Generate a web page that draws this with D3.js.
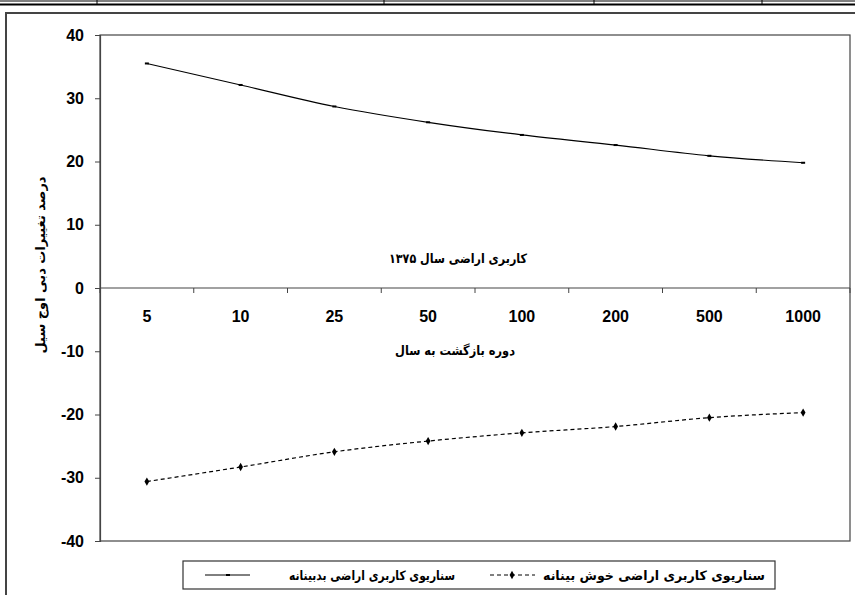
<!DOCTYPE html>
<html>
<head>
<meta charset="utf-8">
<script src="https://cdn.jsdelivr.net/npm/d3@7.9.0/dist/d3.min.js"></script>
<style>
  body { margin: 0; background: #fff; }
  svg { display: block; }
  .fa { font-family: "DejaVu Sans", sans-serif; font-weight: bold; }
  .num { font-family: "Liberation Sans", Arial, sans-serif; font-weight: bold; }
</style>
</head>
<body>
<svg width="855" height="595"></svg>
<script>
// return periods (years)
const periods = ['5', '10', '25', '50', '100', '200', '500', '1000'];
// % change in peak flow, pessimistic land use scenario
const pessimistic = [35.5, 32.1, 28.7, 26.2, 24.2, 22.6, 20.9, 19.8];
// % change in peak flow, optimistic land use scenario
const optimistic = [-30.6, -28.3, -25.9, -24.2, -22.9, -21.9, -20.5, -19.7];
const yTicks = [-40, -30, -20, -10, 0, 10, 20, 30, 40];

const svg = d3.select('svg');

// bits of the table above the figure
svg.append('line').attr('x1', 0).attr('x2', 855).attr('y1', 1).attr('y2', 1)
  .attr('stroke', '#000').attr('stroke-width', 1);
svg.append('line').attr('x1', 0).attr('x2', 855).attr('y1', 4.5).attr('y2', 4.5)
  .attr('stroke', '#000').attr('stroke-width', 2);
[97, 384, 594, 762].forEach(x => {
  svg.append('line').attr('x1', x).attr('x2', x).attr('y1', 0).attr('y2', 4)
    .attr('stroke', '#000');
});

// chart frame
svg.append('rect').attr('x', 6).attr('y', 13).attr('width', 860).attr('height', 600)
  .attr('fill', 'none').attr('stroke', '#444').attr('stroke-width', 2);

const x = d3.scaleBand().domain(periods).range([100, 850]);
const y = d3.scaleLinear().domain([-40, 40]).range([541, 35]);

// plot area border
svg.append('rect').attr('x', 100).attr('y', y(40)).attr('width', 750).attr('height', y(-40) - y(40))
  .attr('fill', 'none').attr('stroke', '#444').attr('stroke-width', 1.2);

// y axis
const yAxis = svg.append('g').attr('transform', 'translate(100,0)')
  .call(d3.axisLeft(y).tickValues(yTicks).tickSize(5).tickPadding(11).tickFormat(d => String(d)));
yAxis.select('.domain').attr('stroke', '#444').attr('stroke-width', 1.2);
yAxis.selectAll('.tick line').attr('stroke', '#444');
yAxis.selectAll('text').attr('class', 'num').attr('font-size', 16).attr('fill', '#000');

// x axis along zero
svg.append('line').attr('x1', 100).attr('x2', 850).attr('y1', y(0)).attr('y2', y(0))
  .attr('stroke', '#444').attr('stroke-width', 1.2);
const edges = periods.map(p => x(p)).concat([x.range()[1]]);
svg.selectAll('.xtick').data(edges).join('line')
  .attr('x1', d => d).attr('x2', d => d)
  .attr('y1', y(0)).attr('y2', y(0) + 5)
  .attr('stroke', '#444');
svg.selectAll('.xlab').data(periods).join('text')
  .attr('class', 'num')
  .attr('x', d => x(d) + x.bandwidth() / 2)
  .attr('y', y(0) + 34)
  .attr('text-anchor', 'middle')
  .attr('font-size', 16)
  .text(d => d);

// captions inside plot
svg.append('text').attr('class', 'fa').attr('x', 458).attr('y', 263)
  .attr('text-anchor', 'middle').attr('font-size', 13).attr('direction', 'rtl')
  .attr('textLength', 138).attr('lengthAdjust', 'spacingAndGlyphs')
  .text('کاربری اراضی سال ۱۳۷۵');
svg.append('text').attr('class', 'fa').attr('x', 455).attr('y', 355)
  .attr('text-anchor', 'middle').attr('font-size', 13).attr('direction', 'rtl')
  .attr('textLength', 120).attr('lengthAdjust', 'spacingAndGlyphs')
  .text('دوره بازگشت به سال');

// y title
svg.append('text').attr('class', 'fa')
  .attr('transform', 'translate(45,265) rotate(-90)')
  .attr('text-anchor', 'middle').attr('font-size', 13).attr('direction', 'rtl')
  .text('درصد تغییرات دبی اوج سیل');

const cx = d => x(d) + x.bandwidth() / 2;

// pessimistic series
const line1 = d3.line().x((d, i) => cx(periods[i])).y(d => y(d)).curve(d3.curveMonotoneX);
svg.append('path').datum(pessimistic).attr('d', line1)
  .attr('fill', 'none').attr('stroke', '#000').attr('stroke-width', 1.2);
svg.selectAll('.p1').data(pessimistic).join('rect')
  .attr('x', (d, i) => cx(periods[i]) - 2).attr('y', d => y(d) - 1)
  .attr('width', 4).attr('height', 2).attr('fill', '#000');

// optimistic series
const line2 = d3.line().x((d, i) => cx(periods[i])).y(d => y(d)).curve(d3.curveMonotoneX);
svg.append('path').datum(optimistic).attr('d', line2)
  .attr('fill', 'none').attr('stroke', '#000').attr('stroke-width', 1.2)
  .attr('stroke-dasharray', '4,3');
const diamond = d3.symbol().type(d3.symbolDiamond).size(20);
svg.selectAll('.p2').data(optimistic).join('path')
  .attr('d', diamond)
  .attr('transform', (d, i) => `translate(${cx(periods[i])},${y(d)})`)
  .attr('fill', '#000');

// legend
const lg = svg.append('g');
lg.append('rect').attr('x', 183).attr('y', 561).attr('width', 592).attr('height', 28)
  .attr('fill', '#fff').attr('stroke', '#333').attr('stroke-width', 1.2);
lg.append('text').attr('class', 'fa').attr('x', 654).attr('y', 580)
  .attr('font-size', 13).attr('text-anchor', 'middle').attr('direction', 'rtl')
  .attr('textLength', 222).attr('lengthAdjust', 'spacingAndGlyphs')
  .text('سناریوی کاربری اراضی خوش بینانه');
lg.append('line').attr('x1', 490).attr('x2', 535).attr('y1', 575).attr('y2', 575)
  .attr('stroke', '#000').attr('stroke-dasharray', '4,3');
lg.append('path').attr('d', diamond).attr('transform', 'translate(512,575)');
lg.append('text').attr('class', 'fa').attr('x', 372).attr('y', 580)
  .attr('font-size', 13).attr('text-anchor', 'middle').attr('direction', 'rtl')
  .attr('textLength', 166).attr('lengthAdjust', 'spacingAndGlyphs')
  .text('سناریوی کاربری اراضی بدبینانه');
lg.append('line').attr('x1', 205).attr('x2', 250).attr('y1', 575).attr('y2', 575)
  .attr('stroke', '#000');
lg.append('rect').attr('x', 226).attr('y', 574).attr('width', 4).attr('height', 2);
</script>
</body>
</html>
